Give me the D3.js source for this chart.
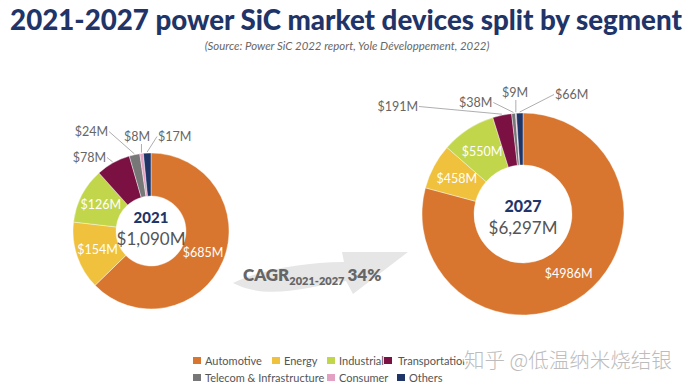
<!DOCTYPE html>
<html>
<head>
<meta charset="utf-8">
<script src="https://cdn.jsdelivr.net/npm/d3@7"></script>
<style>
  body { margin: 0; background: #fff; }
  svg { display: block; font-family: Lato, "Open Sans", sans-serif; }
</style>
</head>
<body>
<svg id="chart" width="692" height="388"></svg>
<script>
const segments = ["Automotive", "Energy", "Industrial", "Transportation", "Telecom & Infrastructure", "Consumer", "Others"];
const colors = ["#d8762f", "#efc13c", "#c2d64c", "#7b1142", "#777777", "#e2a1c3", "#1f3568"];
const values2021 = [685, 154, 126, 78, 24, 8, 17];
const values2027 = [4986, 458, 550, 191, 38, 9, 66];
const totals = ["$1,090M", "$6,297M"];
const years = ["2021", "2027"];
const cagr = "34%";

const svg = d3.select("#chart");

// title, fitted to the width of the picture
const title = svg.append("text")
  .attr("x", 346).attr("y", 30)
  .attr("text-anchor", "middle")
  .attr("fill", "#1f3468")
  .attr("font-weight", 900)
  .attr("font-size", 24)
  .text("2021-2027 power SiC market devices split by segment");
const tw = title.node().getComputedTextLength();
title.attr("font-size", 24 * 672 / tw);

const sub = svg.append("text")
  .attr("x", 347).attr("y", 50)
  .attr("text-anchor", "middle")
  .attr("fill", "#666")
  .attr("font-style", "italic")
  .attr("font-size", 11)
  .text("(Source: Power SiC 2022 report, Yole Développement, 2022)");
sub.attr("font-size", 11 * 285 / sub.node().getComputedTextLength());

// CAGR arrow (decoration)
svg.append("path")
  .attr("d", "M233,283 C255,272 300,262 344,262 L342,252 L408,252 L353,294 L346,281 C305,288 265,300 233,283 Z")
  .attr("fill", "#e6e6e6");

const cg = svg.append("text").attr("y", 281).attr("fill", "#666").attr("font-weight", 800);
cg.append("tspan").attr("x", 243).attr("font-size", 17).text("CAGR");
cg.append("tspan").attr("font-size", 11).attr("dy", 4).text("2021-2027");
cg.append("tspan").attr("font-size", 17).attr("dy", -4).attr("dx", 3).text(cagr);

const pie = d3.pie().sort(null).value(d => d.v);

// donut settings: center, radii, and where the small outside labels sit
const donuts = [
  {values: values2021, cx: 151, cy: 231, r0: 35, r1: 78, yr: 0,
   outer: {3: [106, 162, "end"], 4: [108, 136, "end"], 5: [124, 141, "start"], 6: [158, 141, "start"]},
   hole: [223, 245], yearSize: 15},
  {values: values2027, cx: 523, cy: 214, r0: 49, r1: 101, yr: 1,
   outer: {3: [418, 111, "end"], 4: [459, 107, "start"], 5: [502, 97, "start"], 6: [555, 99, "start"]},
   hole: [212, 234], yearSize: 16}
];

donuts.forEach(dn => {
  const data = dn.values.map((v, i) => ({v, i}));
  const arcs = pie(data);
  const arc = d3.arc().innerRadius(dn.r0).outerRadius(dn.r1);
  const g = svg.append("g").attr("transform", `translate(${dn.cx},${dn.cy})`);

  g.selectAll("path").data(arcs).join("path")
    .attr("d", arc)
    .attr("fill", d => colors[d.data.i])
    .attr("stroke", "#fff")
    .attr("stroke-width", 0.4);

  // labels inside the big slices
  g.selectAll("text.in").data(arcs.filter(d => d.data.i < 3)).join("text")
    .attr("class", "in")
    .attr("transform", d => `translate(${arc.centroid(d)})`)
    .attr("dy", "0.35em")
    .attr("text-anchor", "middle")
    .attr("fill", "#fff")
    .attr("font-size", 12.5)
    .text(d => `$${d.data.v}M`);

  // small slices: labels outside with leader lines
  arcs.filter(d => d.data.i >= 3).forEach(d => {
    const [lx, ly, anchor] = dn.outer[d.data.i];
    const a = (d.startAngle + d.endAngle) / 2;
    const px = Math.sin(a) * (dn.r1 + 1), py = -Math.cos(a) * (dn.r1 + 1);
    const t = svg.append("text")
      .attr("x", lx).attr("y", ly)
      .attr("text-anchor", anchor)
      .attr("fill", "#666")
      .attr("font-size", 12.5)
      .text(`$${d.data.v}M`);
    const bb = t.node().getBBox();
    let sx, sy;
    const tx = dn.cx + px, ty = dn.cy + py;
    if (tx > bb.x + bb.width) { sx = bb.x + bb.width + 1; sy = bb.y + bb.height / 2; }
    else if (tx < bb.x) { sx = bb.x - 1; sy = bb.y + bb.height / 2; }
    else { sx = tx; sy = bb.y + bb.height; }
    svg.append("line")
      .attr("x1", sx).attr("y1", sy)
      .attr("x2", tx).attr("y2", ty)
      .attr("stroke", "#999")
      .attr("stroke-width", 0.8);
  });

  g.append("text")
    .attr("y", dn.hole[0] - dn.cy)
    .attr("text-anchor", "middle")
    .attr("fill", "#1f3468")
    .attr("font-weight", 900)
    .attr("font-size", dn.yearSize)
    .text(years[dn.yr]);
  g.append("text")
    .attr("y", dn.hole[1] - dn.cy)
    .attr("text-anchor", "middle")
    .attr("fill", "#555")
    .attr("font-size", 17)
    .text(totals[dn.yr]);
});

// legend
const legendPos = [[193, 361], [272, 361], [327, 361], [384, 361], [193, 378], [327, 378], [397, 378]];
const lg = svg.append("g").selectAll("g").data(segments).join("g")
  .attr("transform", (d, i) => `translate(${legendPos[i][0]},${legendPos[i][1]})`);
lg.append("rect").attr("x", 0).attr("y", -4).attr("width", 8).attr("height", 7)
  .attr("fill", (d, i) => colors[i]);
lg.append("text").attr("x", (d, i) => i === 3 ? 14 : 12).attr("y", 0).attr("dy", "0.35em")
  .attr("fill", "#555").attr("font-size", 11).text(d => d);

// watermark
svg.append("text")
  .attr("x", 464).attr("y", 368)
  .attr("fill", "#bcbcbc")
  .attr("font-family", "'Noto Sans CJK SC', sans-serif")
  .attr("font-weight", 300)
  .attr("font-size", 20.5)
  .attr("stroke", "#fff").attr("stroke-width", 3).attr("paint-order", "stroke")
  .text("知乎 @低温纳米烧结银");
</script>
</body>
</html>
